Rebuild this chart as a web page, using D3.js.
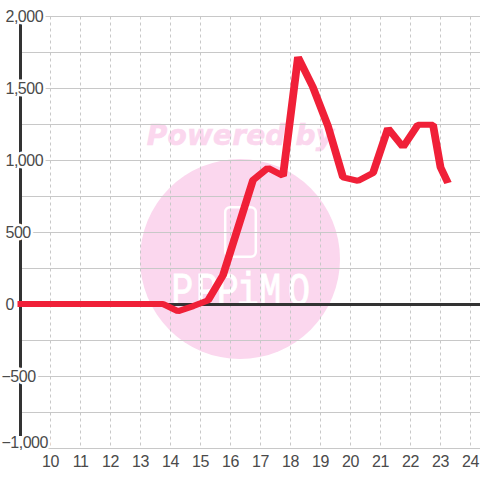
<!DOCTYPE html>
<html>
<head>
<meta charset="utf-8">
<script src="https://cdn.jsdelivr.net/npm/d3@7"></script>
<style>
    html, body { margin: 0; padding: 0; background: #fff; }
    svg { display: block; }
    text { font-family: "Liberation Sans", Arial, sans-serif; }
</style>
</head>
<body>
<svg id="chart" width="480" height="480"></svg>
<script>
const hours = [8.9, 13.75, 14.25, 14.75, 15.25, 15.75, 16.25, 16.75, 17.25, 17.75, 18.25, 18.75, 19.25, 19.75, 20.25, 20.75, 21.25, 21.75, 22.25, 22.75, 23, 23.25];
const values = [0, 0, -50, -15, 25, 200, 530, 860, 945, 890, 1715, 1505, 1235, 880, 855, 910, 1220, 1090, 1245, 1245, 950, 840];
const xTicks = [10, 11, 12, 13, 14, 15, 16, 17, 18, 19, 20, 21, 22, 23, 24];
const yLabels = [2000, 1500, 1000, 500, 0, -500, -1000];
const yGrid = [2000, 1750, 1500, 1250, 1000, 750, 500, 250, -250, -500, -750, -1000];

const svg = d3.select("#chart");

const x = d3.scaleLinear().domain([10, 24]).range([50.5, 470.5]);
const y = d3.scaleLinear().domain([2000, -1000]).range([16.5, 448.5]);

// watermark sits under the grid
const mark = svg.append("g");

mark.append("text")
    .attr("x", 240.5)
    .attr("y", 145)
    .attr("text-anchor", "middle")
    .style("font-family", "DejaVu Sans")
    .style("font-weight", "bold")
    .style("font-style", "italic")
    .style("font-size", "28px")
    .style("letter-spacing", "0.2px")
    .attr("fill", "#fbd7ee")
    .attr("stroke", "#fbd7ee")
    .attr("stroke-width", 0.6)
    .text("Powered by");

mark.append("circle")
    .attr("cx", 240)
    .attr("cy", 259)
    .attr("r", 100)
    .attr("fill", "#fbd7ee");

mark.append("rect")
    .attr("x", 225.2)
    .attr("y", 207.2)
    .attr("width", 30.6)
    .attr("height", 49.6)
    .attr("rx", 5)
    .attr("fill", "none")
    .attr("stroke", "#fff")
    .attr("stroke-width", 2.5);

mark.append("text")
    .attr("transform", "scale(0.8,1)")
    .attr("x", "214 245 271 296 324 360")
    .attr("y", 305)
    .style("font-family", "Liberation Mono")
    .style("font-size", "46px")
    .attr("fill", "#fff")
    .attr("stroke", "#fff")
    .attr("stroke-width", 0.8)
    .text("PPPiMO");

// grid
svg.append("g")
    .selectAll("line")
    .data(xTicks)
    .join("line")
    .attr("x1", d => x(d))
    .attr("x2", d => x(d))
    .attr("y1", y(2000))
    .attr("y2", y(-1000))
    .attr("stroke", "#c8c8c8")
    .attr("stroke-dasharray", "3 3");

svg.append("g")
    .selectAll("line")
    .data(yGrid)
    .join("line")
    .attr("x1", 20)
    .attr("x2", 480)
    .attr("y1", d => y(d))
    .attr("y2", d => y(d))
    .attr("stroke", "#c8c8c8");

// axes
svg.append("line")
    .attr("x1", 20.5)
    .attr("x2", 20.5)
    .attr("y1", y(2000))
    .attr("y2", 436)
    .attr("stroke", "#333")
    .attr("stroke-width", 3);

svg.append("line")
    .attr("x1", 20)
    .attr("x2", 480)
    .attr("y1", y(0))
    .attr("y2", y(0))
    .attr("stroke", "#333")
    .attr("stroke-width", 3);

// y labels have a white halo that cuts the axis and grid lines
svg.append("g")
    .selectAll("text")
    .data(yLabels)
    .join("text")
    .attr("x", d => d < 0 ? 1.5 : 5.5)
    .attr("y", d => y(d) + (d === -1000 ? -1 : 5.5))
    .style("font-size", "16px")
    .style("letter-spacing", "-0.5px")
    .attr("fill", "#4a4a4a")
    .attr("stroke", "#fff")
    .attr("stroke-width", 5)
    .attr("paint-order", "stroke")
    .text(d3.format(","));

svg.append("g")
    .selectAll("text")
    .data(xTicks)
    .join("text")
    .attr("x", d => x(d))
    .attr("y", 466.5)
    .attr("text-anchor", "middle")
    .style("font-size", "16px")
    .style("letter-spacing", "-0.5px")
    .attr("fill", "#4a4a4a")
    .text(d => d);

// the pen is wider than tall in the reference, so the path is drawn stretched
const stretch = 1.3;

const line = d3.line()
    .x((d, i) => x(hours[i]) / stretch)
    .y(d => y(d));

svg.append("g")
    .attr("transform", `translate(0,-0.5) scale(${stretch},1)`)
    .append("path")
    .datum(values)
    .attr("d", line)
    .attr("fill", "none")
    .attr("stroke", "#f02038")
    .attr("stroke-width", 6)
    .attr("stroke-linejoin", "bevel");
</script>
</body>
</html>
